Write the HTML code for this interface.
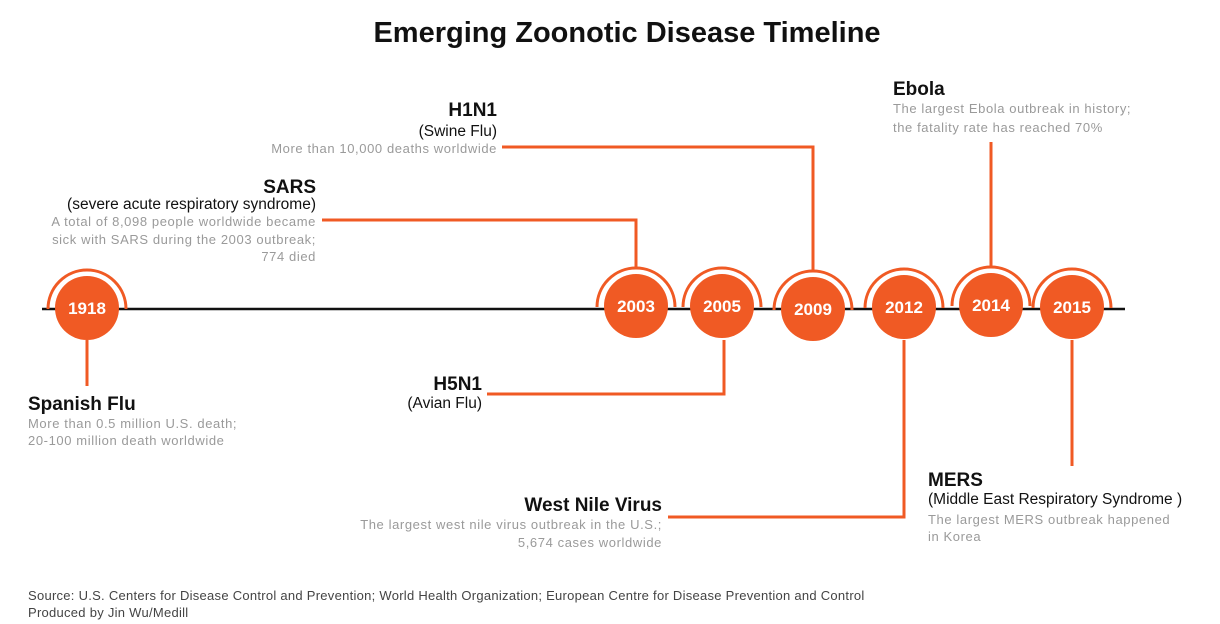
<!DOCTYPE html>
<html><head><meta charset="utf-8"><style>
html,body{margin:0;padding:0;background:#fff}
svg{display:block}
.t{font-family:"Liberation Sans",Arial,sans-serif;font-weight:bold;font-size:19px;fill:#111}
.s{font-family:"Liberation Sans",Arial,sans-serif;font-size:15.5px;fill:#111}
.d{font-family:"Liberation Sans",Arial,sans-serif;font-size:13px;fill:#9a9a9a;letter-spacing:0.6px}
.y{font-family:"Liberation Sans",Arial,sans-serif;font-weight:bold;font-size:17px;fill:#fff}
.src{font-family:"Liberation Sans",Arial,sans-serif;font-size:13px;fill:#444;letter-spacing:0.27px}
</style></head><body>
<svg width="1220" height="624" viewBox="0 0 1220 624" xmlns="http://www.w3.org/2000/svg">
<text x="627" y="42" text-anchor="middle" font-family="Liberation Sans,Arial,sans-serif" font-weight="bold" font-size="29" fill="#111">Emerging Zoonotic Disease Timeline</text>
<line x1="42" y1="309" x2="1125" y2="309" stroke="#111" stroke-width="2.5"/>
<g stroke="#f05a24" stroke-width="3" fill="none">
<path d="M87 340 V386"/>
<path d="M322 220 H636 V268"/>
<path d="M502 147 H813 V270"/>
<path d="M991 142 V266"/>
<path d="M724 340 V394 H487"/>
<path d="M904 340 V517 H668"/>
<path d="M1072 340 V466"/>
<path d="M48 309 A39 39 0 0 1 126 309"/>
<path d="M597 307 A39 39 0 0 1 675 307"/>
<path d="M683 307 A39 39 0 0 1 761 307"/>
<path d="M774 310 A39 39 0 0 1 852 310"/>
<path d="M865 308 A39 39 0 0 1 943 308"/>
<path d="M952 306 A39 39 0 0 1 1030 306"/>
<path d="M1033 308 A39 39 0 0 1 1111 308"/>
</g>
<g fill="#f05a24">
<circle cx="87" cy="308" r="32"/>
<circle cx="636" cy="306" r="32"/>
<circle cx="722" cy="306" r="32"/>
<circle cx="813" cy="309" r="32"/>
<circle cx="904" cy="307" r="32"/>
<circle cx="991" cy="305" r="32"/>
<circle cx="1072" cy="307" r="32"/>
</g>
<g text-anchor="middle" class="y">
<text class="y" x="87" y="314">1918</text>
<text class="y" x="636" y="312">2003</text>
<text class="y" x="722" y="312">2005</text>
<text class="y" x="813" y="315">2009</text>
<text class="y" x="904" y="313">2012</text>
<text class="y" x="991" y="311">2014</text>
<text class="y" x="1072" y="313">2015</text>
</g>
<g text-anchor="end">
<text class="t" x="316" y="193">SARS</text>
<text class="s" x="316" y="209">(severe acute respiratory syndrome)</text>
<text class="d" x="316" y="226">A total of 8,098 people worldwide became</text>
<text class="d" x="316" y="244">sick with SARS during the 2003 outbreak;</text>
<text class="d" x="316" y="261">774 died</text>
<text class="t" x="497" y="116">H1N1</text>
<text class="s" x="497" y="136">(Swine Flu)</text>
<text class="d" x="497" y="153">More than 10,000 deaths worldwide</text>
<text class="t" x="482" y="390">H5N1</text>
<text class="s" x="482" y="408">(Avian Flu)</text>
<text class="t" x="662" y="511">West Nile Virus</text>
<text class="d" x="662" y="529">The largest west nile virus outbreak in the U.S.;</text>
<text class="d" x="662" y="547">5,674 cases worldwide</text>
</g>
<text class="t" x="893" y="95">Ebola</text>
<text class="d" x="893" y="113">The largest Ebola outbreak in history;</text>
<text class="d" x="893" y="132">the fatality rate has reached 70%</text>
<text class="t" x="28" y="410">Spanish Flu</text>
<text class="d" x="28" y="428">More than 0.5 million U.S. death;</text>
<text class="d" x="28" y="445">20-100 million death worldwide</text>
<text class="t" x="928" y="486">MERS</text>
<text class="s" x="928" y="504">(Middle East Respiratory Syndrome )</text>
<text class="d" x="928" y="524">The largest MERS outbreak happened</text>
<text class="d" x="928" y="541">in Korea</text>
<text class="src" x="28" y="600">Source: U.S. Centers for Disease Control and Prevention; World Health Organization; European Centre for Disease Prevention and Control</text>
<text class="src" x="28" y="617">Produced by Jin Wu/Medill</text>
</svg>
</body></html>
